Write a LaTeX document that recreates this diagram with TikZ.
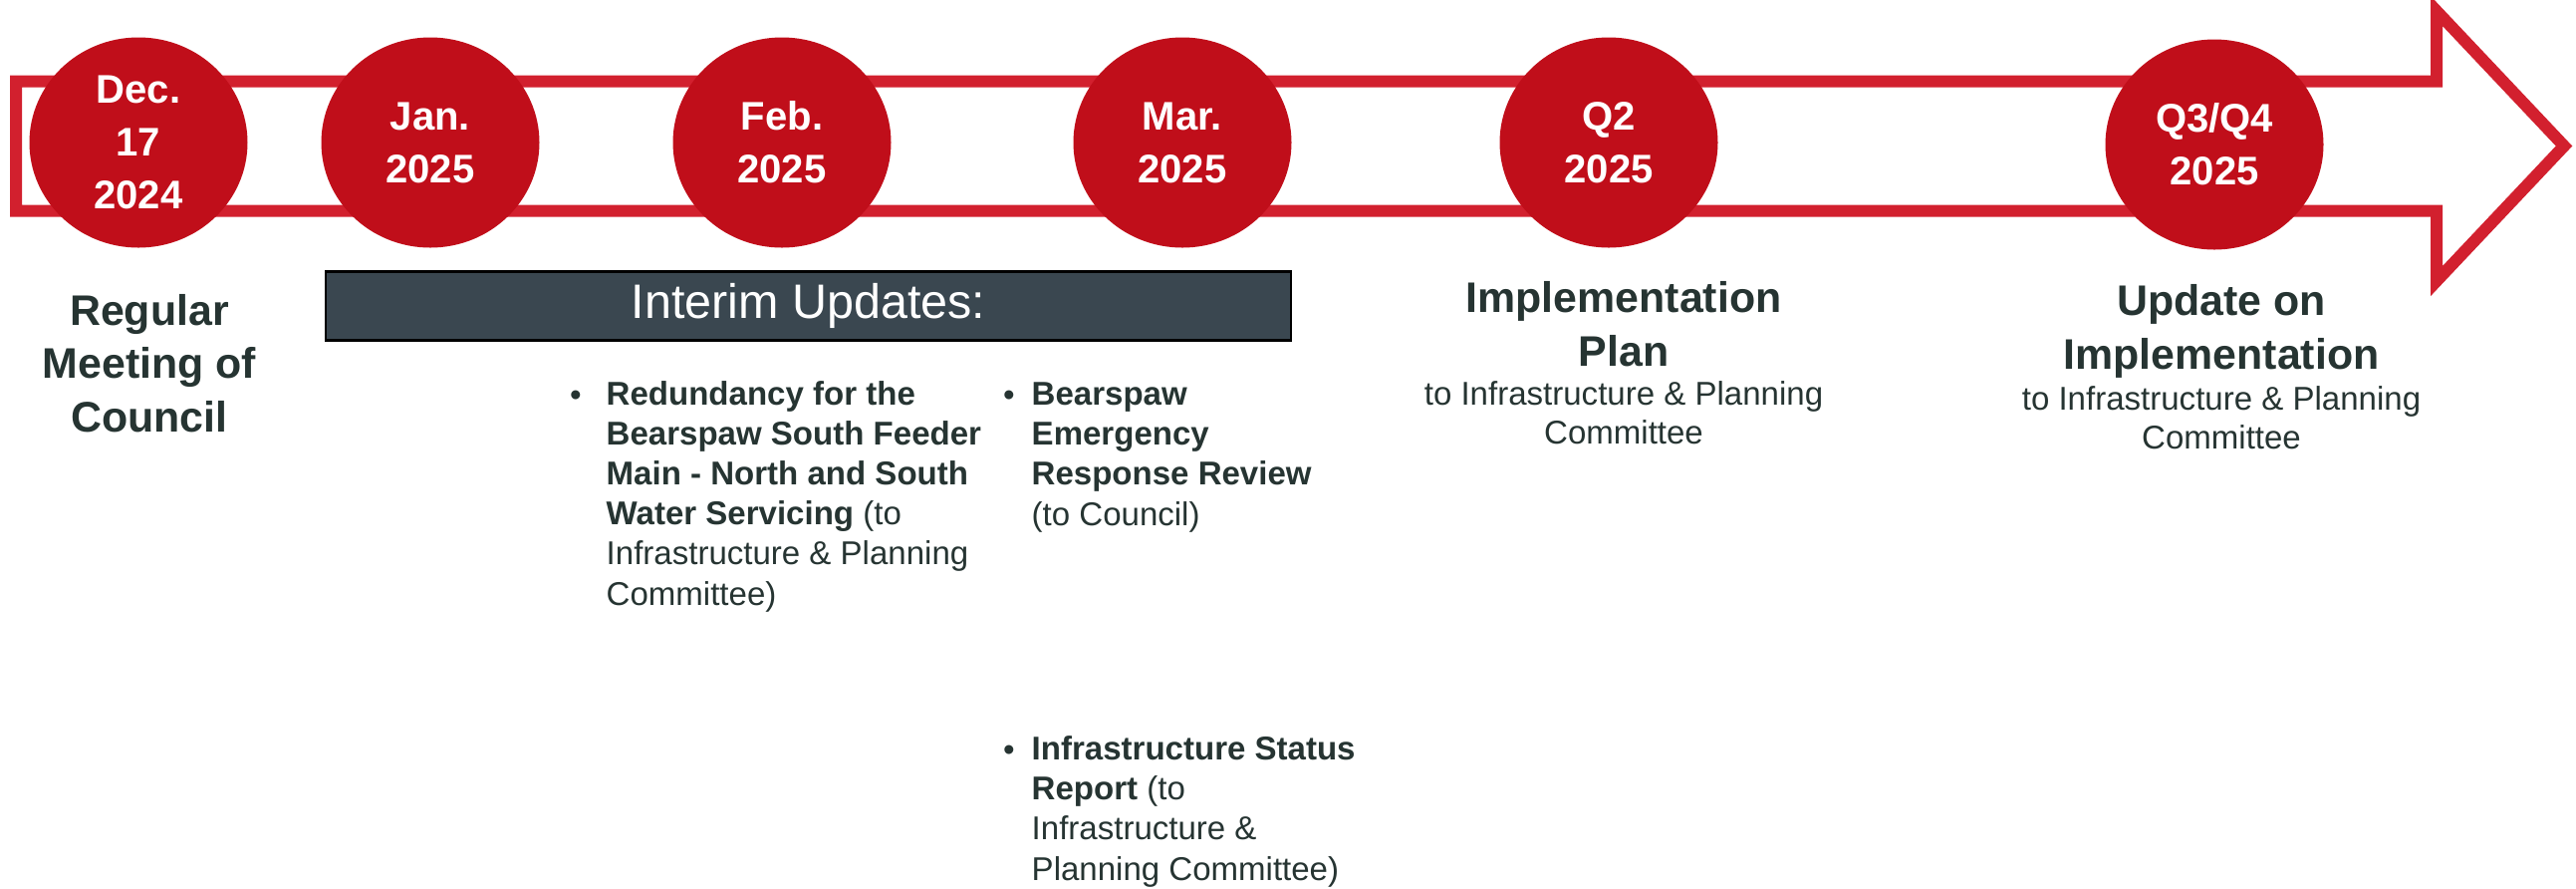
\documentclass[tikz,border=0pt]{standalone}
\usepackage{fontspec}
\setmainfont{Liberation Sans}
\usepackage{xcolor}
\usepackage{tikz}
\usetikzlibrary{shapes.geometric}
\definecolor{dotred}{RGB}{192,14,26}
\definecolor{arrowred}{RGB}{210,32,46}
\definecolor{slatetext}{RGB}{38,52,50}
\definecolor{barfill}{RGB}{58,71,80}

\begin{document}
\begin{tikzpicture}[y=-1cm,
    datedot/.style={ellipse, fill=dotred, minimum width=2.19cm, minimum height=2.11cm,
      inner sep=0pt, text=white, align=center, font=\fontsize{11.4}{15.1}\selectfont\bfseries},
    headtext/.style={anchor=base, align=center, inner sep=0pt, text=slatetext,
      font=\fontsize{12.2}{15.1}\selectfont\bfseries},
    subtext/.style={anchor=base, align=center, inner sep=0pt, text=slatetext,
      font=\fontsize{9.4}{11.1}\selectfont},
    itemtext/.style={anchor=base west, align=left, inner sep=0pt, text=slatetext,
      font=\fontsize{9.4}{11.4}\selectfont},
    itemdot/.style={anchor=base, inner sep=0pt, text=slatetext,
      font=\fontsize{9.4}{11.4}\selectfont}]
  \useasboundingbox (0,0) rectangle (25.86,8.91);

  % timeline arrow
  \draw[arrowred, line width=0.12cm, miter limit=10]
    (0.16,0.815) -- (24.46,0.815) -- (24.46,0.11) -- (25.74,1.465)
    -- (24.46,2.82) -- (24.46,2.115) -- (0.16,2.115) -- cycle;

  % dates
  \node[datedot] (dec) at (1.39,1.43) {Dec.\\17\\2024};
  \node[datedot] (jan) at (4.32,1.43) {Jan.\\2025};
  \node[datedot] (feb) at (7.85,1.43) {Feb.\\2025};
  \node[datedot] (mar) at (11.87,1.43) {Mar.\\2025};
  \node[datedot] (qtwo) at (16.15,1.43) {Q2\\2025};
  \node[datedot] (qfour) at (22.23,1.45) {Q3/Q4\\2025};

  % what happens when (base = last line)
  \node[headtext] (council) at (1.50,4.33) {Regular\\Meeting of\\Council};

  \node[draw=black, line width=0.7pt, fill=barfill, minimum width=9.69cm, minimum height=0.68cm,
    text=white, font=\fontsize{13.8}{16}\selectfont] (interim) at (8.115,3.07) {Interim Updates:};

  \node[itemdot] (dotfeeder) at (5.78,4.07) {•};
  \node[itemtext] (feeder) at (6.08,6.07) {\textbf{Redundancy for the}\\
    \textbf{Bearspaw South Feeder}\\\textbf{Main - North and South}\\
    \textbf{Water Servicing} (to\\Infrastructure \& Planning\\Committee)};
  \node[itemdot] (dotreview) at (10.13,4.07) {•};
  \node[itemtext] (review) at (10.35,5.27) {\textbf{Bearspaw}\\\textbf{Emergency}\\
    \textbf{Response Review}\\(to Council)};
  \node[itemdot] (dotstatus) at (10.13,7.63) {•};
  \node[itemtext] (status) at (10.35,8.83) {\textbf{Infrastructure Status}\\
    \textbf{Report} (to\\Infrastructure \&\\Planning Committee)};

  \node[headtext] (plan) at (16.30,3.67) {Implementation\\Plan};
  \node[subtext] (plansub) at (16.30,4.45) {to Infrastructure \& Planning\\Committee};

  \node[headtext] (update) at (22.30,3.70) {Update on\\Implementation};
  \node[subtext] (updatesub) at (22.30,4.50) {to Infrastructure \& Planning\\Committee};
\end{tikzpicture}
\end{document}
